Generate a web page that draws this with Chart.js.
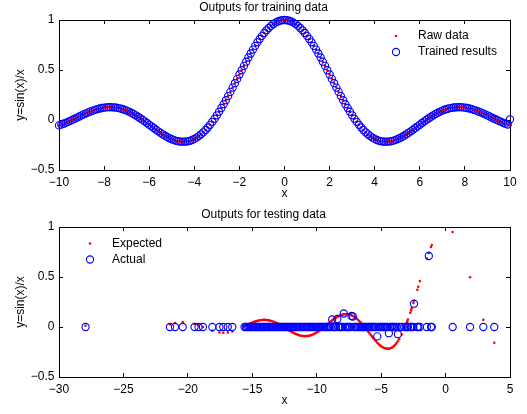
<!DOCTYPE html>
<html>
<head>
<meta charset="utf-8">
<script src="https://cdn.jsdelivr.net/npm/chart.js@4.4.0/dist/chart.umd.min.js"></script>
<style>
body { margin: 0; background: #fff; }
#wrap { position: relative; width: 527px; height: 414px; }
#train { position: absolute; left: 0; top: 0; }
#test { position: absolute; left: 0; top: 207px; }
</style>
</head>
<body>
<div id="wrap">
<canvas id="train" width="527" height="207"></canvas>
<canvas id="test" width="527" height="207"></canvas>
</div>
<script>
// training data, x = -10 .. 10
var trainX = [
	-10,-9.9,-9.8,-9.7,-9.6,-9.5,-9.4,-9.3,-9.2,-9.1,
	-9,-8.9,-8.8,-8.7,-8.6,-8.5,-8.4,-8.3,-8.2,-8.1,
	-8,-7.9,-7.8,-7.7,-7.6,-7.5,-7.4,-7.3,-7.2,-7.1,
	-7,-6.9,-6.8,-6.7,-6.6,-6.5,-6.4,-6.3,-6.2,-6.1,
	-6,-5.9,-5.8,-5.7,-5.6,-5.5,-5.4,-5.3,-5.2,-5.1,
	-5,-4.9,-4.8,-4.7,-4.6,-4.5,-4.4,-4.3,-4.2,-4.1,
	-4,-3.9,-3.8,-3.7,-3.6,-3.5,-3.4,-3.3,-3.2,-3.1,
	-3,-2.9,-2.8,-2.7,-2.6,-2.5,-2.4,-2.3,-2.2,-2.1,
	-2,-1.9,-1.8,-1.7,-1.6,-1.5,-1.4,-1.3,-1.2,-1.1,
	-1,-0.9,-0.8,-0.7,-0.6,-0.5,-0.4,-0.3,-0.2,-0.1,
	0,
	0.1,0.2,0.3,0.4,0.5,0.6,0.7,0.8,0.9,1,
	1.1,1.2,1.3,1.4,1.5,1.6,1.7,1.8,1.9,2,
	2.1,2.2,2.3,2.4,2.5,2.6,2.7,2.8,2.9,3,
	3.1,3.2,3.3,3.4,3.5,3.6,3.7,3.8,3.9,4,
	4.1,4.2,4.3,4.4,4.5,4.6,4.7,4.8,4.9,5,
	5.1,5.2,5.3,5.4,5.5,5.6,5.7,5.8,5.9,6,
	6.1,6.2,6.3,6.4,6.5,6.6,6.7,6.8,6.9,7,
	7.1,7.2,7.3,7.4,7.5,7.6,7.7,7.8,7.9,8,
	8.1,8.2,8.3,8.4,8.5,8.6,8.7,8.8,8.9,9,
	9.1,9.2,9.3,9.4,9.5,9.6,9.7,9.8,9.9,10
];
var rawY = [
	-0.054,-0.046,-0.037,-0.028,-0.018,-0.008,0.003,0.013,0.024,0.035,
	0.046,0.056,0.067,0.076,0.085,0.094,0.102,0.109,0.115,0.120,
	0.124,0.126,0.128,0.128,0.127,0.125,0.121,0.117,0.110,0.103,
	0.094,0.084,0.073,0.060,0.047,0.033,0.018,0.003,-0.013,-0.030,
	-0.047,-0.063,-0.080,-0.097,-0.113,-0.128,-0.143,-0.157,-0.170,-0.182,
	-0.192,-0.201,-0.208,-0.213,-0.216,-0.217,-0.216,-0.213,-0.208,-0.200,
	-0.189,-0.176,-0.161,-0.143,-0.123,-0.100,-0.075,-0.048,-0.018,0.013,
	0.047,0.083,0.120,0.158,0.198,0.239,0.281,0.324,0.368,0.411,
	0.455,0.498,0.541,0.583,0.625,0.665,0.704,0.741,0.777,0.810,
	0.841,0.870,0.897,0.920,0.941,0.959,0.974,0.985,0.993,0.998,
	1.000,
	0.998,0.993,0.985,0.974,0.959,0.941,0.920,0.897,0.870,0.841,
	0.810,0.777,0.741,0.704,0.665,0.625,0.583,0.541,0.498,0.455,
	0.411,0.368,0.324,0.281,0.239,0.198,0.158,0.120,0.083,0.047,
	0.013,-0.018,-0.048,-0.075,-0.100,-0.123,-0.143,-0.161,-0.176,-0.189,
	-0.200,-0.208,-0.213,-0.216,-0.217,-0.216,-0.213,-0.208,-0.201,-0.192,
	-0.182,-0.170,-0.157,-0.143,-0.128,-0.113,-0.097,-0.080,-0.063,-0.047,
	-0.030,-0.013,0.003,0.018,0.033,0.047,0.060,0.073,0.084,0.094,
	0.103,0.110,0.117,0.121,0.125,0.127,0.128,0.128,0.126,0.124,
	0.120,0.115,0.109,0.102,0.094,0.085,0.076,0.067,0.056,0.046,
	0.035,0.024,0.013,0.003,-0.008,-0.018,-0.028,-0.037,-0.046,-0.054
];
var trainedY = [
	-0.054,-0.046,-0.037,-0.028,-0.018,-0.008,0.003,0.013,0.024,0.035,
	0.046,0.056,0.067,0.076,0.085,0.094,0.102,0.109,0.115,0.120,
	0.124,0.126,0.128,0.128,0.127,0.125,0.121,0.117,0.110,0.103,
	0.094,0.084,0.073,0.060,0.047,0.033,0.018,0.003,-0.013,-0.030,
	-0.047,-0.063,-0.080,-0.097,-0.113,-0.128,-0.143,-0.157,-0.170,-0.182,
	-0.192,-0.201,-0.208,-0.213,-0.216,-0.217,-0.216,-0.213,-0.208,-0.200,
	-0.189,-0.176,-0.161,-0.143,-0.123,-0.100,-0.075,-0.048,-0.018,0.013,
	0.047,0.083,0.120,0.158,0.198,0.239,0.281,0.324,0.368,0.411,
	0.455,0.498,0.541,0.583,0.625,0.665,0.704,0.741,0.777,0.810,
	0.841,0.870,0.897,0.920,0.941,0.959,0.974,0.985,0.993,0.998,
	1.000,
	0.998,0.993,0.985,0.974,0.959,0.941,0.920,0.897,0.870,0.841,
	0.810,0.777,0.741,0.704,0.665,0.625,0.583,0.541,0.498,0.455,
	0.411,0.368,0.324,0.281,0.239,0.198,0.158,0.120,0.083,0.047,
	0.013,-0.018,-0.048,-0.075,-0.100,-0.123,-0.143,-0.161,-0.176,-0.189,
	-0.200,-0.208,-0.213,-0.216,-0.217,-0.216,-0.213,-0.208,-0.201,-0.192,
	-0.182,-0.170,-0.157,-0.143,-0.128,-0.113,-0.097,-0.080,-0.063,-0.047,
	-0.030,-0.013,0.003,0.018,0.033,0.047,0.060,0.073,0.084,0.094,
	0.103,0.110,0.117,0.121,0.125,0.127,0.128,0.128,0.126,0.124,
	0.120,0.115,0.109,0.102,0.094,0.085,0.076,0.067,0.056,0.046,
	0.035,0.024,0.013,0.003,-0.008,-0.018,-0.028,-0.037,-0.046,0.007
];

// testing data: sparse left points, dense block -15.6 .. -3.6, then the right side
var testX = [
	-27.94,-21.39,-21,-20.4,-19.48,-19.17,-18.83,-18.1,-17.55,-17.25,-16.9,-16.55,
	-15.6,-15.5,-15.4,-15.3,-15.2,-15.1,-15,-14.9,-14.8,-14.7,
	-14.6,-14.5,-14.4,-14.3,-14.2,-14.1,-14,-13.9,-13.8,-13.7,
	-13.6,-13.5,-13.4,-13.3,-13.2,-13.1,-13,-12.9,-12.8,-12.7,
	-12.6,-12.5,-12.4,-12.3,-12.2,-12.1,-12,-11.9,-11.8,-11.7,
	-11.6,-11.5,-11.4,-11.3,-11.2,-11.1,-11,-10.9,-10.8,-10.7,
	-10.6,-10.5,-10.4,-10.3,-10.2,-10.1,-10,-9.9,-9.8,-9.7,
	-9.6,-9.5,-9.4,-9.3,-9.2,-9.1,-9,-8.9,-8.8,-8.7,
	-8.6,-8.5,-8.4,-8.3,-8.2,-8.1,-8,-7.9,-7.8,-7.7,
	-7.6,-7.5,-7.4,-7.3,-7.2,-7.1,-7,-6.9,-6.8,-6.7,
	-6.6,-6.5,-6.4,-6.3,-6.2,-6.1,-6,-5.9,-5.8,-5.7,
	-5.6,-5.5,-5.4,-5.3,-5.2,-5.1,-5,-4.9,-4.8,-4.7,
	-4.6,-4.5,-4.4,-4.3,-4.2,-4.1,-4,-3.9,-3.8,-3.7,
	-3.6,
	-3.4,-3.2,-3,-2.97,-2.92,-2.74,-2.68,-2.63,-2.5,-2.45,
	-2.19,-2.12,-1.99,-1.45,-1.3,-1.13,-1.07,
	0.55,1.9,2.93,3.78
];
var expectedY = [
	0.0118,0.0265,0.0398,0.0490,0.0303,0.0164,-0.0010,-0.0377,-0.0549,-0.0579,-0.0550,-0.0451,
	0.0069,0.0133,0.0197,0.0259,0.0320,0.0378,0.0434,0.0485,0.0533,0.0575,
	0.0613,0.0645,0.0671,0.0690,0.0703,0.0709,0.0708,0.0699,0.0684,0.0661,
	0.0632,0.0595,0.0552,0.0504,0.0448,0.0388,0.0323,0.0254,0.0181,0.0105,
	0.0027,-0.0053,-0.0134,-0.0214,-0.0294,-0.0372,-0.0447,-0.0520,-0.0588,-0.0651,
	-0.0709,-0.0761,-0.0806,-0.0844,-0.0874,-0.0896,-0.0909,-0.0913,-0.0908,-0.0894,
	-0.0870,-0.0838,-0.0796,-0.0745,-0.0686,-0.0619,-0.0544,-0.0462,-0.0374,-0.0280,
	-0.0182,-0.0079,0.0026,0.0134,0.0242,0.0351,0.0458,0.0563,0.0665,0.0762,
	0.0854,0.0939,0.1017,0.1087,0.1147,0.1197,0.1237,0.1264,0.1280,0.1283,
	0.1274,0.1251,0.1214,0.1165,0.1102,0.1027,0.0939,0.0838,0.0727,0.0604,
	0.0472,0.0331,0.0182,0.0027,-0.0134,-0.0299,-0.0466,-0.0634,-0.0801,-0.0966,
	-0.1127,-0.1283,-0.1431,-0.1570,-0.1699,-0.1815,-0.1918,-0.2005,-0.2075,-0.2127,
	-0.2160,-0.2172,-0.2163,-0.2131,-0.2075,-0.1996,-0.1892,-0.1764,-0.1610,-0.1432,
	-0.1229,
	-0.0752,-0.0182,0.0470,0.0575,0.0753,0.1427,0.1662,0.1862,0.2394,0.2603,
	0.3717,0.4022,0.4590,0.6846,0.7412,0.8004,0.8198,
	0.9504,0.4981,0.0717,-0.1576
];
var actualY = [
	0,0,0,0,0,0,0,0,0,0,0,0,
	0,0,0,0,0,0,0,0,0,0,
	0,0,0,0,0,0,0,0,0,0,
	0,0,0,0,0,0,0,0,0,0,
	0,0,0,0,0,0,0,0,0,0,
	0,0,0,0,0,0,0,0,0,0,
	0,0,0,0,0,0,0,0,0,0,
	0,0,0,0,0,0,0,0,0.075,0,
	0,0,0.08,0,0,0,0,0.135,0,0,
	0,0,0,0.11,0.105,0,0,0,0,0,
	0,0,0,0,0,0,0,0,0,0,
	0,0,0,-0.094,0,0,0,0,0,0,
	0,0,-0.062,0,0,0,0,0,0,-0.072,
	0,
	0,0,0,0,0,0,0,0,0,0.233,
	0,0,0,0,0.71,0,0,
	0,0,0,0
];

var yTicks = [-0.5, 0, 0.5, 1];
var trainXTicks = [-10, -8, -6, -4, -2, 0, 2, 4, 6, 8, 10];
var testXTicks = [-30, -25, -20, -15, -10, -5, 0, 5];

Chart.defaults.font.family = '"Liberation Sans", Arial, sans-serif';
Chart.defaults.font.size = 12;
Chart.defaults.color = '#000';

var insideLegend = {
	id: 'insideLegend',
	afterDraw: function(chart, args, opts) {
		var ctx = chart.ctx;
		var sets = chart.data.datasets;
		ctx.save();
		ctx.font = '12px "Liberation Sans", Arial, sans-serif';
		ctx.textBaseline = 'middle';
		ctx.textAlign = 'left';
		for (var i = 0; i < sets.length; i++) {
			var y = opts.y + i * opts.gap;
			ctx.beginPath();
			ctx.arc(opts.markerX, y, sets[i].pointRadius, 0, Math.PI * 2);
			if (sets[i].pointBorderWidth > 0) {
				ctx.strokeStyle = sets[i].pointBorderColor;
				ctx.lineWidth = sets[i].pointBorderWidth;
				ctx.stroke();
			} else {
				ctx.fillStyle = sets[i].pointBackgroundColor;
				ctx.fill();
			}
			ctx.fillStyle = '#000';
			ctx.fillText(sets[i].label, opts.textX, y);
		}
		ctx.restore();
	}
};

function toPoints(xs, ys) {
	var pts = [];
	for (var i = 0; i < xs.length; i++) {
		pts.push({ x: xs[i], y: ys[i] });
	}
	return pts;
}

function fixTicks(values) {
	return function(scale) {
		scale.ticks = values.map(function(v) { return { value: v }; });
	};
}

function minusLabel(v) {
	return String(v).replace('-', '\u2212');
}

function makeScales(xTicks) {
	var grid = { drawOnChartArea: false, color: '#000', tickLength: -4 };
	var border = { display: true, color: '#000', width: 1 };
	var xMin = xTicks[0], xMax = xTicks[xTicks.length - 1];
	return {
		x: {
			type: 'linear', position: 'bottom', min: xMin, max: xMax,
			afterBuildTicks: fixTicks(xTicks),
			afterFit: function(s) { s.height = 37; },
			grid: grid, border: border,
			ticks: { padding: 9, color: '#000', callback: minusLabel, maxRotation: 0 },
			title: { display: true, text: 'x', color: '#000', padding: { top: 0, bottom: 6 } }
		},
		x2: {
			type: 'linear', position: 'top', min: xMin, max: xMax,
			afterBuildTicks: fixTicks(xTicks),
			afterFit: function(s) { s.height = 0; },
			grid: grid, border: border,
			ticks: { display: false }
		},
		y: {
			type: 'linear', position: 'left', min: -0.5, max: 1,
			afterBuildTicks: fixTicks(yTicks),
			afterFit: function(s) { s.width = 59; },
			grid: grid, border: border,
			ticks: { padding: 8.5, color: '#000', callback: minusLabel },
			title: { display: true, text: 'y=sin(x)/x', color: '#000', padding: { top: 13, bottom: 0 } }
		},
		y2: {
			type: 'linear', position: 'right', min: -0.5, max: 1,
			afterBuildTicks: fixTicks(yTicks),
			afterFit: function(s) { s.width = 17; },
			grid: grid, border: border,
			ticks: { display: false }
		}
	};
}

function makeChart(id, title, dotLabel, ringLabel, xs, dotY, ringY, xTicks, legendPos) {
	return new Chart(document.getElementById(id), {
		type: 'scatter',
		data: {
			datasets: [{
				label: dotLabel,
				data: toPoints(xs, dotY),
				pointStyle: 'circle',
				pointRadius: 1.3,
				pointBorderWidth: 0,
				pointBackgroundColor: '#ff0000',
				pointBorderColor: '#ff0000',
				clip: false,
				order: 1
			}, {
				label: ringLabel,
				data: toPoints(xs, ringY),
				pointStyle: 'circle',
				pointRadius: 3.6,
				pointBorderWidth: 1.1,
				pointBackgroundColor: 'rgba(0,0,0,0)',
				pointBorderColor: '#0000ff',
				clip: false,
				order: 0
			}]
		},
		options: {
			responsive: false,
			animation: false,
			events: [],
			layout: { padding: 0 },
			scales: makeScales(xTicks),
			plugins: {
				legend: { display: false },
				tooltip: { enabled: false },
				title: {
					display: true,
					text: title,
					color: '#000',
					font: { size: 12, weight: 'normal' },
					padding: { top: 0.5, bottom: 5.1 }
				},
				insideLegend: legendPos
			}
		},
		plugins: [insideLegend]
	});
}

makeChart('train', 'Outputs for training data', 'Raw data', 'Trained results',
	trainX, rawY, trainedY, trainXTicks, { markerX: 396, textX: 418, y: 36, gap: 16 });
makeChart('test', 'Outputs for testing data', 'Expected', 'Actual',
	testX, expectedY, actualY, testXTicks, { markerX: 90, textX: 112, y: 36.5, gap: 16 });
</script>
</body>
</html>
